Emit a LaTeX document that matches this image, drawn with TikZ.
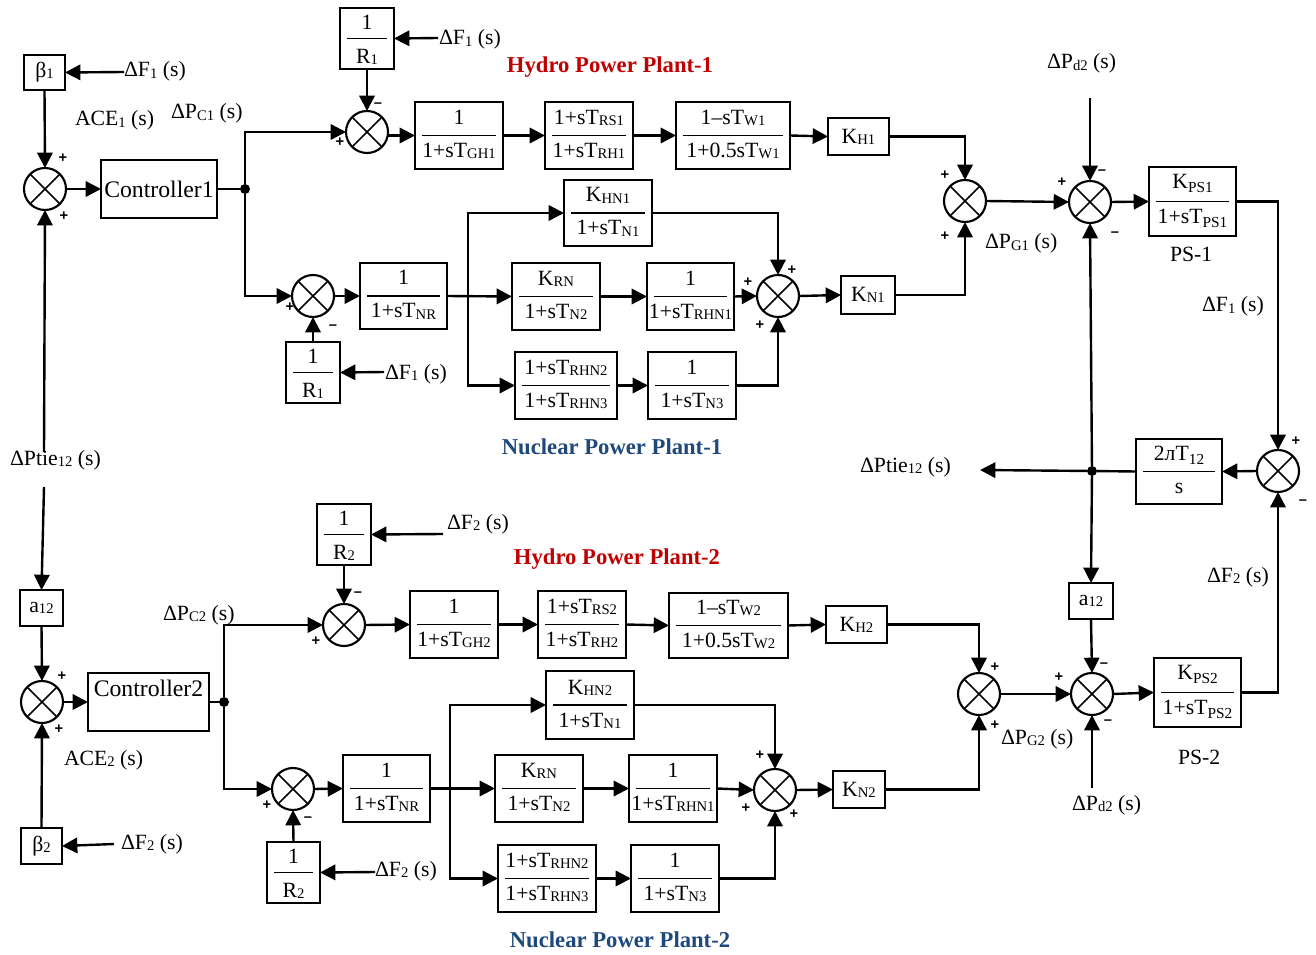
\documentclass[tikz,border=0pt]{standalone}
\usepackage{fontspec}
\setmainfont{Liberation Serif}
\newfontfamily\signfont{Liberation Sans}
\usetikzlibrary{arrows.meta}
\definecolor{hydro}{HTML}{C00000}
\definecolor{nuke}{HTML}{1F497D}
\newcommand\sbt[1]{\raisebox{-0.8pt}{\fontsize{11pt}{11pt}\selectfont #1}}
\newcommand\sbl[1]{\raisebox{-3pt}{\fontsize{11.5pt}{11.5pt}\selectfont #1}}
\tikzset{
  x=0.75pt,y=-0.75pt,
  blk/.style={draw,line width=1.5pt,inner sep=0pt,outer sep=0pt,font=\fontsize{16.3pt}{17pt}\selectfont},
  txt/.style={inner sep=0pt,outer sep=0pt,anchor=base,font=\fontsize{16.3pt}{17pt}\selectfont},
  lab/.style={inner sep=0pt,outer sep=0pt,anchor=base west,font=\fontsize{16.3pt}{17pt}\selectfont},
  rl/.style={line width=1.3pt},
  sumn/.style={circle,draw,line width=1.6pt,minimum size=31.5pt,inner sep=0pt,outer sep=0pt,
    path picture={\draw[line width=1.3pt] (path picture bounding box.north west) -- (path picture bounding box.south east)
      (path picture bounding box.north east) -- (path picture bounding box.south west);}},
  wire/.style={line width=1.8pt},
  con/.style={line width=1.8pt,-{Triangle[length=11.5pt,width=11.5pt]}},
  dotn/.style={circle,fill=black,minimum size=7.5pt,inner sep=0pt,outer sep=0pt},
  sgn/.style={inner sep=0pt,outer sep=0pt,font=\signfont\bfseries\fontsize{11pt}{11pt}\selectfont},
  title/.style={inner sep=0pt,outer sep=0pt,font=\bfseries\fontsize{17pt}{18pt}\selectfont},
}
% name, x1,y1,x2,y2, numerator, denominator
\newcommand\blk[7]{%
  \node[blk,minimum width={(#4-#2)*0.75pt},minimum height={(#5-#3)*0.75pt}] (#1) at ({(#2+#4)/2},{(#3+#5)/2}) {};
  \draw[rl] ({#2+7},{(#3+#5)/2}) -- ({#4-7},{(#3+#5)/2});
  \node[txt] (#1n) at ({(#2+#4)/2},{(#3+#5)/2-11}) {#6};
  \node[txt] (#1d) at ({(#2+#4)/2},{(#3+#5)/2+22}) {#7};
}
% name, x1,y1,x2,y2, text
\newcommand\sbx[6]{%
  \node[blk,minimum width={(#4-#2)*0.75pt},minimum height={(#5-#3)*0.75pt}] (#1) at ({(#2+#4)/2},{(#3+#5)/2}) {#6};
}
\begin{document}
\begin{tikzpicture}
\path[use as bounding box] (0,0) rectangle (1316,955);

% ---------- Area 1 ----------
\sbx{b1}{24}{55}{65}{90}{β\sbt{1}}
\sbx{c1}{101}{160}{217}{218}{\raisebox{-4.5pt}{\fontsize{17.8pt}{18pt}\selectfont Controller1}}
\node[sumn] (s1) at (45,189) {};
\node[dotn] (j1) at (245,189) {};
\node[sumn] (h1) at (367,132) {};
\blk{r1a}{340}{8}{394}{69}{\raisebox{-1.5pt}{1}}{\raisebox{-2.2pt}{R\sbt{1}}}
\blk{gh1}{415}{102}{503}{169}{1}{1+sT\sbt{GH1}}
\blk{rs1}{545}{102}{633}{169}{1+sT\sbt{RS1}}{1+sT\sbt{RH1}}
\blk{w1}{676}{102}{790}{169}{1–sT\sbt{W1}}{1+0.5sT\sbt{W1}}
\sbx{kh1}{828}{118}{889}{155}{K\sbt{H1}}
\node[sumn] (g1) at (965,201) {};
\node[sumn] (p1) at (1090,202) {};
\blk{ps1}{1149}{167}{1236}{236}{\raisebox{1.5pt}{K\sbl{PS1}}}{1+sT\sbl{PS1}}
\node[sumn] (f) at (1278,471) {};
\node[sumn] (n1) at (313,296) {};
\blk{r1b}{286}{342}{340}{403}{\raisebox{-1.5pt}{1}}{\raisebox{-2.2pt}{R\sbt{1}}}
\blk{nr1}{360}{263}{447}{329}{1}{1+sT\sbt{NR}}
\blk{khn1}{564}{180}{652}{246}{K\sbt{HN1}}{1+sT\sbt{N1}}
\blk{krn1}{512}{263}{600}{330}{K\sbt{RN}}{1+sT\sbt{N2}}
\blk{rhn1}{647}{263}{734}{330}{1}{1+sT\sbt{RHN1}}
\blk{rh21}{515}{352}{617}{419}{1+sT\sbt{RHN2}}{1+sT\sbt{RHN3}}
\blk{n31}{648}{352}{736}{419}{1}{1+sT\sbt{N3}}
\node[sumn] (m1) at (778,296) {};
\sbx{kn1}{841}{276}{895}{314}{K\sbt{N1}}
\blk{tie}{1136}{439}{1222}{504}{2лT\sbl{12}}{s}
\node[dotn] (j3) at (1092,471) {};

% ---------- Area 2 ----------
\sbx{a2}{20}{590}{63}{626}{a\sbt{12}}
\node[sumn] (s2) at (42,702) {};
\sbx{c2}{88}{673}{209}{731}{\raisebox{21pt}{\fontsize{17.8pt}{18pt}\selectfont Controller2}}
\sbx{b2}{21}{828}{62}{864}{β\sbt{2}}
\node[dotn] (j2) at (224,702) {};
\node[sumn] (h2) at (344,625) {};
\blk{r2a}{317}{504}{371}{565}{\raisebox{-1.5pt}{1}}{\raisebox{-2.2pt}{R\sbt{2}}}
\blk{gh2}{410}{591}{498}{658}{1}{1+sT\sbt{GH2}}
\blk{rs2}{538}{591}{626}{658}{1+sT\sbt{RS2}}{1+sT\sbt{RH2}}
\blk{w2}{669}{593}{788}{658}{1–sT\sbt{W2}}{1+0.5sT\sbt{W2}}
\sbx{kh2}{826}{606}{887}{643}{K\sbt{H2}}
\node[sumn] (g2) at (979,694) {};
\node[sumn] (p2) at (1092,694) {};
\blk{ps2}{1154}{658}{1241}{727}{\raisebox{1.5pt}{K\sbl{PS2}}}{1+sT\sbl{PS2}}
\sbx{a1}{1069}{583}{1113}{619}{a\sbt{12}}
\node[sumn] (n2) at (293,789) {};
\blk{r2b}{267}{842}{320}{903}{\raisebox{-1.5pt}{1}}{\raisebox{-2.2pt}{R\sbt{2}}}
\blk{nr2}{343}{755}{430}{822}{1}{1+sT\sbt{NR}}
\blk{khn2}{546}{671}{634}{739}{K\sbt{HN2}}{1+sT\sbt{N1}}
\blk{krn2}{495}{755}{583}{822}{K\sbt{RN}}{1+sT\sbt{N2}}
\blk{rhn2}{629}{755}{717}{822}{1}{1+sT\sbt{RHN1}}
\blk{rh22}{498}{845}{596}{912}{1+sT\sbt{RHN2}}{1+sT\sbt{RHN3}}
\blk{n32}{631}{845}{719}{912}{1}{1+sT\sbt{N3}}
\node[sumn] (m2) at (775,790) {};
\sbx{kn2}{833}{771}{885}{808}{K\sbt{N2}}

% ---------- Labels ----------
\node[lab] (l1) at (124,77) {ΔF\sbt{1} (s)};
\node[lab] (l2) at (75,126) {ACE\sbt{1} (s)};
\node[lab] (l3) at (171,119) {ΔP\sbt{C1} (s)};
\node[lab] (l4) at (439,45) {ΔF\sbt{1} (s)};
\node[lab] (l5) at (1047,69) {ΔP\sbt{d2} (s)};
\node[lab] (l6) at (985,249) {ΔP\sbt{G1} (s)};
\node[lab] (l7) at (1170,262) {PS-1};
\node[lab] (l8) at (1202,312) {ΔF\sbt{1} (s)};
\node[lab] (l9) at (385,379) {ΔF\sbt{1} (s)};
\node[lab] (l10) at (10,465) {ΔPtie\sbt{12} (s)};
\node[lab] (l11) at (860,472) {ΔPtie\sbt{12} (s)};
\node[lab] (l12) at (447,529) {ΔF\sbt{2} (s)};
\node[lab] (l13) at (163,620) {ΔP\sbt{C2} (s)};
\node[lab] (l14) at (1207,582) {ΔF\sbt{2} (s)};
\node[lab] (l15) at (1001,744) {ΔP\sbt{G2} (s)};
\node[lab] (l16) at (1178,764) {PS-2};
\node[lab] (l17) at (64,765) {ACE\sbt{2} (s)};
\node[lab] (l18) at (121,849) {ΔF\sbt{2} (s)};
\node[lab] (l19) at (375,876) {ΔF\sbt{2} (s)};
\node[lab] (l20) at (1072,810) {ΔP\sbt{d2} (s)};
\node[title,text=hydro] (t1) at (610,67) {Hydro Power Plant-1};
\node[title,text=nuke] (t2) at (612,447) {Nuclear Power Plant-1};
\node[title,text=hydro] (t3) at (617,559) {Hydro Power Plant-2};
\node[title,text=nuke] (t4) at (620,940) {Nuclear Power Plant-2};

% ---------- Free ends and bends ----------
\coordinate (e1) at (124,72);
\coordinate (e2) at (438,38);
\coordinate (e3) at (384,372);
\coordinate (e4) at (1090,98);
\coordinate (e5) at (980,470);
\coordinate (e6) at (44,452);
\coordinate (e7) at (44,487);
\coordinate (e8) at (443,534);
\coordinate (e9) at (114,844);
\coordinate (e10) at (375,872);
\coordinate (e11) at (1092,788);
\coordinate (b5) at (468,296);
\coordinate (b6) at (450,788);

% ---------- Connectors, area 1 ----------
\draw[con] (e1) -- (b1.east);
\draw[con] (b1.south) -- (s1.north);
\draw[con] (s1.east) -- (c1.west);
\draw[con] (e6) -- (s1.south);
\draw[wire] (c1.east) -- (j1);
\draw[con] (j1) |- (h1.west);
\draw[con] (j1) |- (n1.west);
\draw[con] (r1a.south) -- (h1.north);
\draw[con] (e2) -- (r1a.east);
\draw[con] (h1.east |- gh1.west) -- (gh1.west);
\draw[con] (gh1.east) -- (rs1.west);
\draw[con] (rs1.east) -- (w1.west);
\draw[con] (w1.east) -- (kh1.west);
\draw[con] (kh1.east) -| (g1.north);
\draw[con] (g1.east) -- (p1.west);
\draw[con] (p1.east) -- (ps1.west);
\draw[con] (ps1.east) -| (f.north);
\draw[con] (e4) -- (p1.north);
\draw[con] (j3) -- (p1.south);
\draw[con] (f.west) -- (tie.east);
\draw[wire] (tie.west) -- (j3);
\draw[con] (j3) -- (e5);
\draw[con] (j3) -- (a1.north);
\draw[con] (a1.south) -- (p2.north);
\draw[con] (r1b.north) -- (n1.south);
\draw[con] (e3) -- (r1b.east);
\draw[con] (n1.east) -- (nr1.west);
\draw[con] (nr1.east) -- (krn1.west);
\draw[con] (b5) |- (khn1.west);
\draw[con] (b5) |- (rh21.west);
\draw[con] (krn1.east) -- (rhn1.west);
\draw[con] (rhn1.east) -- (m1.west);
\draw[con] (rh21.east) -- (n31.west);
\draw[con] (khn1.east) -| (m1.north);
\draw[con] (n31.east) -| (m1.south);
\draw[con] (m1.east) -- (kn1.west);
\draw[con] (kn1.east) -| (g1.south);

% ---------- Connectors, area 2 ----------
\draw[con] (e7) -- (a2.north);
\draw[con] (a2.south) -- (s2.north);
\draw[con] (s2.east) -- (c2.west);
\draw[con] (b2.north) -- (s2.south);
\draw[con] (e9) -- (b2.east);
\draw[wire] (c2.east) -- (j2);
\draw[con] (j2) |- (h2.west);
\draw[con] (j2) |- (n2.west);
\draw[con] (r2a.south) -- (h2.north);
\draw[con] (e8) -- (r2a.east);
\draw[con] (h2.east) -- (gh2.west);
\draw[con] (gh2.east) -- (rs2.west);
\draw[con] (rs2.east) -- (w2.west);
\draw[con] (w2.east) -- (kh2.west);
\draw[con] (kh2.east) -| (g2.north);
\draw[con] (g2.east) -- (p2.west);
\draw[con] (p2.east) -- (ps2.west);
\draw[con] (ps2.east) -| (f.south);
\draw[con] (e11) -- (p2.south);
\draw[con] (r2b.north) -- (n2.south);
\draw[con] (e10) -- (r2b.east);
\draw[con] (n2.east) -- (nr2.west);
\draw[con] (nr2.east) -- (krn2.west);
\draw[con] (b6) |- (khn2.west);
\draw[con] (b6) |- (rh22.west);
\draw[con] (krn2.east) -- (rhn2.west);
\draw[con] (rhn2.east) -- (m2.west);
\draw[con] (rh22.east) -- (n32.west);
\draw[con] (khn2.east) -| (m2.north);
\draw[con] (n32.east) -| (m2.south);
\draw[con] (m2.east) -- (kn2.west);
\draw[con] (kn2.east) -| (g2.south);

% ---------- Signs ----------
\foreach \i/\p/\q in {1/63/158,2/64/216,3/340/142,4/290/307,5/792/270,6/748/282,7/760/325,
  8/945/175,9/945/236,10/1062/182,11/1296/441,12/1059/677,13/995/667,14/995/725,15/316/641,
  16/62/676,17/59/729,18/267/805,19/760/755,20/746/808,21/794/814}
  \node[sgn] (pl\i) at (\p,\q) {+};
\foreach \i/\p/\q in {1/378/105,2/333/327,3/1102/172,4/1115/234,5/1303/502,6/1104/665,7/1108/722,
  8/358/594,9/308/819}
  \node[sgn] (mi\i) at (\p,\q) {–};
\end{tikzpicture}
\end{document}
